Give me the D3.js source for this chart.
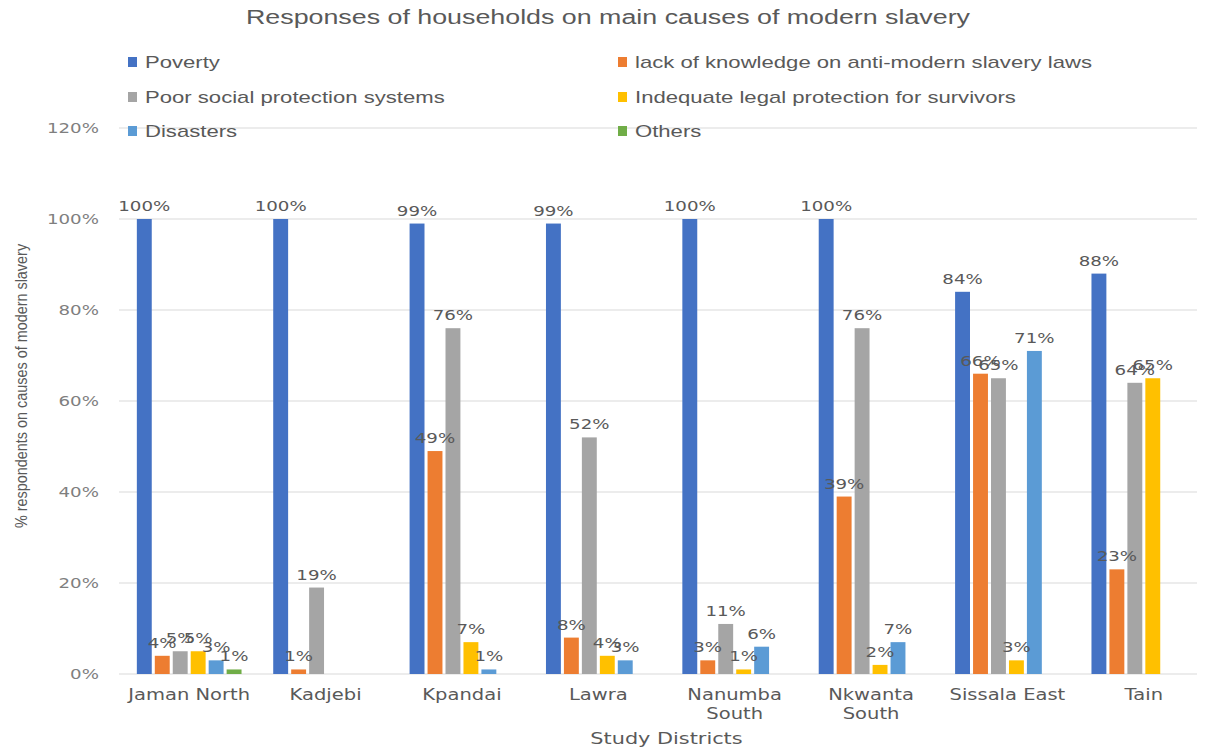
<!DOCTYPE html>
<html>
<head>
<meta charset="utf-8">
<script src="https://cdn.jsdelivr.net/npm/d3@7"></script>
<style>
  body { margin: 0; background: #fff; }
  svg { display: block; }
</style>
</head>
<body>
<div id="chart"></div>
<script>
// chart data
var districts = ['Jaman North', 'Kadjebi', 'Kpandai', 'Lawra', 'Nanumba South', 'Nkwanta South', 'Sissala East', 'Tain'];
var causes = ['Poverty', 'lack of knowledge on anti-modern slavery laws', 'Poor social protection systems',
              'Indequate legal protection for survivors', 'Disasters', 'Others'];
var poverty         = [100, 100, 99, 99, 100, 100, 84, 88];
var lackKnowledge   = [4, 1, 49, 8, 3, 39, 66, 23];
var poorSocial      = [5, 19, 76, 52, 11, 76, 65, 64];
var inadequateLegal = [5, 0, 7, 4, 1, 2, 3, 65];
var disasters       = [3, 0, 1, 3, 6, 7, 71, 0];
var others          = [1, 0, 0, 0, 0, 0, 0, 0];
var yTicks = [0, 20, 40, 60, 80, 100, 120];

var seriesValues = [poverty, lackKnowledge, poorSocial, inadequateLegal, disasters, others];
var colors = ['#4472C4', '#ED7D31', '#A5A5A5', '#FFC000', '#5B9BD5', '#70AD47'];

var width = 1207, height = 749;
var plotLeft = 121, plotRight = 1212, plotTop = 128, plotBottom = 674;
// the picture is stretched sideways, so text is widened to match
var kx = 1.3;

var svg = d3.select('#chart').append('svg')
	.attr('width', width)
	.attr('height', height);

function stretch(sel, k) {
	sel.each(function () {
		var w = this.getComputedTextLength();
		d3.select(this).attr('textLength', w * k).attr('lengthAdjust', 'spacingAndGlyphs');
	});
}

var x0 = d3.scaleBand().domain(districts).range([plotLeft, plotRight]).padding(0);
var groupW = x0.step() * 0.79;
var x1 = d3.scaleBand().domain(d3.range(causes.length))
	.range([(x0.step() - groupW) / 2, (x0.step() + groupW) / 2])
	.paddingInner(0.17).paddingOuter(0.085);
var y = d3.scaleLinear().domain([0, 120]).range([plotBottom, plotTop]);

// gridlines
svg.append('g').selectAll('line').data(yTicks).enter().append('line')
	.attr('x1', 119).attr('x2', 1197)
	.attr('y1', function (d) { return y(d); })
	.attr('y2', function (d) { return y(d); })
	.style('stroke', '#d9d9d9')
	.style('stroke-width', '1px');

// y tick labels
var yt = svg.append('g').selectAll('text').data(yTicks).enter().append('text')
	.attr('x', 99)
	.attr('y', function (d) { return y(d) + 5; })
	.attr('text-anchor', 'end')
	.style('font-family', 'DejaVu Sans')
	.style('font-size', '14px')
	.style('fill', '#7f7f7f')
	.text(function (d) { return d + '%'; });
stretch(yt, kx);

// bars
var rows = [];
districts.forEach(function (dn, i) {
	seriesValues.forEach(function (vals, s) {
		rows.push({ district: dn, s: s, v: vals[i] });
	});
});

svg.append('g').selectAll('rect').data(rows.filter(function (d) { return d.v > 0; })).enter().append('rect')
	.attr('x', function (d) { return x0(d.district) + x1(d.s); })
	.attr('y', function (d) { return y(d.v); })
	.attr('width', x1.bandwidth())
	.attr('height', function (d) { return plotBottom - y(d.v); })
	.attr('fill', function (d) { return colors[d.s]; });

// data labels
var dl = svg.append('g').selectAll('text').data(rows.filter(function (d) { return d.v > 0; })).enter().append('text')
	.attr('x', function (d) { return x0(d.district) + x1(d.s) + x1.bandwidth() / 2; })
	.attr('y', function (d) { return y(d.v) - 8; })
	.attr('text-anchor', 'middle')
	.style('font-family', 'DejaVu Sans')
	.style('font-size', '14px')
	.style('fill', '#595959')
	.text(function (d) { return d.v + '%'; });
stretch(dl, kx);

// category labels (wrap the long ones)
var xl = svg.append('g');
districts.forEach(function (dn) {
	var cx = x0(dn) + x0.step() / 2;
	var t = xl.append('text')
		.attr('x', cx).attr('y', 700)
		.attr('text-anchor', 'middle')
		.style('font-family', 'DejaVu Sans')
		.style('font-size', '15px')
		.style('fill', '#595959')
		.text(dn);
	if (t.node().getComputedTextLength() * kx > x0.step() * 0.97) {
		var parts = dn.split(' ');
		t.text(parts[0]);
		stretch(t, kx);
		var t2 = xl.append('text')
			.attr('x', cx).attr('y', 719)
			.attr('text-anchor', 'middle')
			.style('font-family', 'DejaVu Sans')
			.style('font-size', '15px')
			.style('fill', '#595959')
			.text(parts.slice(1).join(' '));
		stretch(t2, kx);
	} else {
		stretch(t, kx);
	}
});

// axis titles
var xt = svg.append('text')
	.attr('x', (plotLeft + plotRight) / 2).attr('y', 744)
	.attr('text-anchor', 'middle')
	.style('font-family', 'DejaVu Sans')
	.style('font-size', '16px')
	.style('fill', '#595959')
	.text('Study Districts');
stretch(xt, kx);

var yTitle = svg.append('text')
	.attr('transform', 'translate(27,386) rotate(-90)')
	.attr('text-anchor', 'middle')
	.style('font-family', 'Liberation Sans')
	.style('font-size', '16px')
	.style('fill', '#595959')
	.text('% respondents on causes of modern slavery');
stretch(yTitle, 0.9);

// title
var title = svg.append('text')
	.attr('x', 608).attr('y', 24)
	.attr('text-anchor', 'middle')
	.style('font-family', 'Liberation Sans')
	.style('font-size', '20px')
	.style('fill', '#595959')
	.text('Responses of households on main causes of modern slavery');
stretch(title, 1.34);

// legend, two columns
var legX = [128, 618], legY = [62, 97, 131];
var leg = svg.append('g').selectAll('g').data(causes).enter().append('g')
	.attr('transform', function (d, i) { return 'translate(' + legX[i % 2] + ',' + legY[Math.floor(i / 2)] + ')'; });
leg.append('rect')
	.attr('x', 0).attr('y', -5)
	.attr('width', 9).attr('height', 10)
	.attr('fill', function (d, i) { return colors[i]; });
var lt = leg.append('text')
	.attr('x', 17).attr('y', 6)
	.style('font-family', 'Liberation Sans')
	.style('font-size', '17px')
	.style('fill', '#595959')
	.text(function (d) { return d; });
stretch(lt, kx);
</script>
</body>
</html>
